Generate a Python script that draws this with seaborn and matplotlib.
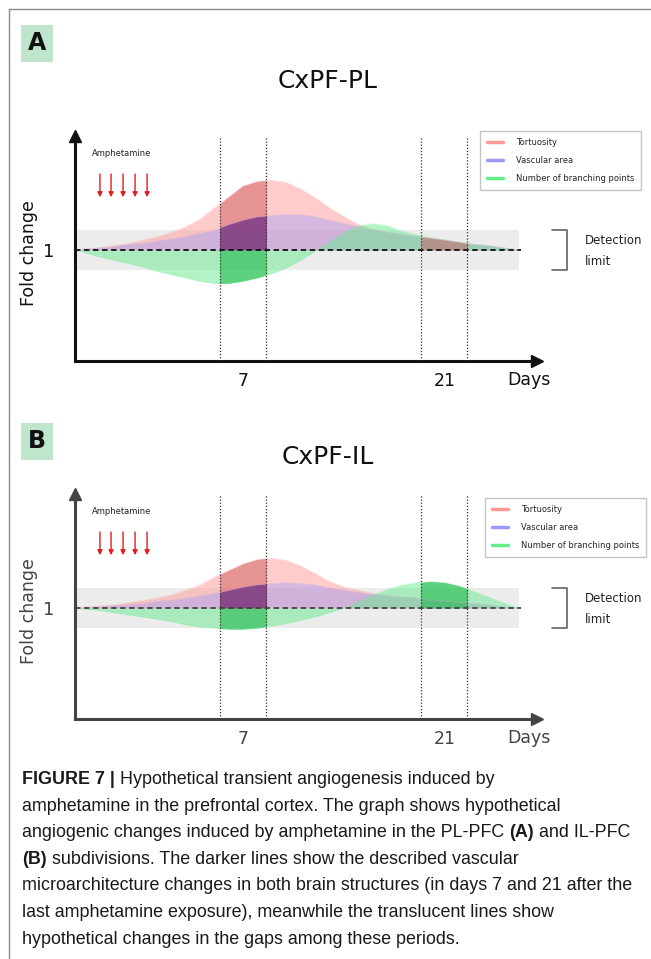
import matplotlib.pyplot as plt
import numpy as np
import pandas as pd
import seaborn as sns
from matplotlib import transforms
from matplotlib.lines import Line2D
from matplotlib.patches import Rectangle
from matplotlib.text import Annotation

sns.set_theme(style="white")
plt.rcParams["font.family"] = ["DejaVu Sans"]

# days after start (x) and fold change (y)
days = [-4.64, -4, -3, -2, -1, 0, 1, 2, 3, 4, 5, 6, 7, 8, 9, 10, 11, 12, 13, 14,
        15, 16, 17, 18, 19, 20, 21, 22, 23, 24, 25, 26.13]

tortuosity_pl = [1.00, 1.01, 1.02, 1.04, 1.06, 1.09, 1.12, 1.16, 1.21, 1.28, 1.38, 1.48, 1.58, 1.62, 1.63, 1.61,
                 1.55, 1.47, 1.38, 1.30, 1.23, 1.19, 1.16, 1.14, 1.12, 1.11, 1.09, 1.07, 1.05, 1.04, 1.02, 1.00]
vascular_pl = [1.00, 1.01, 1.02, 1.03, 1.05, 1.06, 1.08, 1.10, 1.12, 1.15, 1.18, 1.23, 1.27, 1.30, 1.31, 1.32,
               1.32, 1.30, 1.27, 1.24, 1.21, 1.18, 1.16, 1.14, 1.12, 1.10, 1.09, 1.07, 1.05, 1.04, 1.02, 1.00]
branching_pl = [1.00, 0.98, 0.94, 0.91, 0.88, 0.85, 0.81, 0.78, 0.75, 0.72, 0.70, 0.70, 0.72, 0.75, 0.79, 0.84,
                0.91, 0.99, 1.08, 1.16, 1.22, 1.24, 1.22, 1.17, 1.14, 1.11, 1.09, 1.07, 1.05, 1.04, 1.02, 1.00]

tortuosity_il = [1.00, 1.01, 1.02, 1.03, 1.05, 1.07, 1.09, 1.12, 1.16, 1.21, 1.28, 1.34, 1.40, 1.44, 1.45, 1.43,
                 1.38, 1.31, 1.24, 1.19, 1.16, 1.13, 1.11, 1.10, 1.09, 1.07, 1.06, 1.05, 1.04, 1.03, 1.01, 1.00]
vascular_il = [1.00, 1.00, 1.01, 1.02, 1.03, 1.04, 1.06, 1.07, 1.09, 1.11, 1.13, 1.16, 1.19, 1.21, 1.22, 1.23,
               1.22, 1.21, 1.18, 1.16, 1.14, 1.12, 1.11, 1.10, 1.09, 1.07, 1.06, 1.05, 1.04, 1.03, 1.01, 1.00]
branching_il = [1.00, 0.99, 0.98, 0.96, 0.94, 0.92, 0.90, 0.88, 0.85, 0.83, 0.82, 0.81, 0.81, 0.82, 0.84, 0.86,
                0.89, 0.92, 0.96, 1.00, 1.06, 1.12, 1.17, 1.21, 1.23, 1.24, 1.23, 1.20, 1.15, 1.10, 1.05, 1.00]

measures = ["Tortuosity", "Vascular area", "Number of branching points"]
windows = [(5.4, 8.6), (19.3, 22.5)]
# which measures are "described" (darker) in each window
described_pl = [measures, ["Tortuosity"]]
described_il = [measures, ["Number of branching points"]]
x_ticks = [7, 21]
detection = 0.18

legend_colors = {"Tortuosity": "#ff9999", "Vascular area": "#9999ff", "Number of branching points": "#66ee88"}
light = {"Tortuosity": ("#ff9999", 0.5), "Vascular area": ("#9999ff", 0.4),
         "Number of branching points": ("#69eb91", 0.5)}
dark = {"Tortuosity": ("#cd5c5c", 0.5), "Vascular area": ("#50147d", 0.54),
        "Number of branching points": ("#0aaf3c", 0.5)}

W, H = 651, 959
fig = plt.figure(figsize=(W / 100, H / 100), dpi=100)


def fig_rect(left, top, right, bottom):
    return [left / W, 1 - bottom / H, (right - left) / W, (bottom - top) / H]


def draw_panel(rect, letter, letter_top, title, title_y, series, described, ink, legend_top, legend_right):
    ax = fig.add_axes(fig_rect(*rect))
    ax.set_xlim(-4.64, 27.37)
    ax.set_ylim(0, 2.027)

    df = pd.DataFrame({
        "day": days * len(measures),
        "fold": [v for vals in series for v in vals],
        "measure": np.repeat(measures, len(days)),
    })
    by_name = dict(zip(measures, series))

    ax.axhspan(1 - detection, 1 + detection, xmax=0.962, color="#ececec", lw=0, zorder=0)
    for name in measures:
        color, alpha = light[name]
        ax.fill_between(days, 1, by_name[name], color=color, alpha=alpha, lw=0, zorder=1)
    for (x0, x1), names in zip(windows, described):
        clip = Rectangle((x0, -1), x1 - x0, 5, transform=ax.transData)
        for name in names:
            color, alpha = dark[name]
            poly = ax.fill_between(days, 1, by_name[name], color=color, alpha=alpha, lw=0, zorder=2)
            poly.set_clip_path(clip)
    sns.lineplot(data=df, x="day", y="fold", hue="measure", palette=legend_colors,
                 lw=0.5, alpha=0.25, legend=False, ax=ax, zorder=3)

    for x0, x1 in windows:
        for x in (x0, x1):
            ax.axvline(x, color="#333333", lw=0.9, ls=(0, (1, 1.5)), zorder=4)
    ax.axhline(1, xmax=0.965, color=ink, lw=1.3, ls=(0, (3, 2)), zorder=5)

    # axes with arrow heads
    sns.despine(ax=ax)
    for side in ("left", "bottom"):
        ax.spines[side].set_linewidth(2.2)
        ax.spines[side].set_color(ink)
    ax.plot([0], [1], marker="^", ms=9, color=ink, transform=ax.transAxes, clip_on=False)
    ax.plot([1], [0], marker=">", ms=9, color=ink, transform=ax.transAxes, clip_on=False)

    ax.set_xticks(x_ticks)
    ax.set_yticks([1])
    ax.tick_params(axis="x", direction="inout", length=10, width=2, pad=3, labelsize=12.5,
                   color=ink, labelcolor=ink)
    ax.tick_params(axis="y", direction="out", length=6, width=1, pad=8.5, labelsize=13,
                   color="#777777", labelcolor=ink)
    ax.set_xlabel("")
    ax.set_ylabel("Fold change", fontsize=12.5, color=ink, va="center")
    ax.yaxis.set_label_coords(-0.100, 0.48)
    ax.text(0.983, -0.084, "Days", transform=ax.transAxes, ha="center", va="center",
            fontsize=12.5, color=ink)

    # amphetamine injections
    ax.text(0.102, 0.924, "Amphetamine", transform=ax.transAxes, ha="center", va="center",
            fontsize=6, color="#222222")
    for x in (0.054, 0.078, 0.104, 0.130, 0.156):
        ax.annotate("", xy=(x, 0.728), xytext=(x, 0.831), xycoords="axes fraction",
                    arrowprops=dict(arrowstyle="-|>", color="#e41a1c", lw=1.0, mutation_scale=7,
                                    shrinkA=0, shrinkB=0))

    # detection limit bracket
    blend = transforms.blended_transform_factory(ax.transAxes, ax.transData)
    ax.plot([1.032, 1.065, 1.065, 1.032], [1 + detection, 1 + detection, 1 - detection, 1 - detection],
            transform=blend, clip_on=False, color="#555555", lw=1.1)
    ax.text(1.104, 1.09, "Detection", transform=blend, ha="left", va="center", fontsize=8.5, color="#222222")
    ax.text(1.104, 0.90, "limit", transform=blend, ha="left", va="center", fontsize=8.5, color="#222222")

    handles = [Line2D([], [], color=legend_colors[m], lw=2.5) for m in measures]
    leg = ax.legend(handles, measures, loc="upper right", bbox_to_anchor=(legend_right / W, 1 - legend_top / H),
                    bbox_transform=fig.transFigure, fontsize=6, frameon=True, fancybox=False,
                    edgecolor="#c4c4c4", framealpha=1, handlelength=2.0, handletextpad=1.5,
                    labelspacing=1.1, borderpad=0.8, borderaxespad=0)
    leg.get_frame().set_linewidth(1.0)

    fig.text(328 / W, 1 - title_y / H, title, ha="center", va="center", fontsize=18, color="#111111")
    fig.add_artist(Rectangle((21 / W, 1 - (letter_top + 37) / H), 32 / W, 37 / H,
                             transform=fig.transFigure, color="#bfe6cc", lw=0))
    fig.text(37 / W, 1 - (letter_top + 18.5) / H, letter, ha="center", va="center",
             fontsize=17, fontweight="bold", color="#111111")
    return ax


draw_panel((75, 136, 537, 361), "A", 25, "CxPF-PL", 81,
           [tortuosity_pl, vascular_pl, branching_pl], described_pl, "#111111", 131, 641)
draw_panel((75, 494, 537, 719), "B", 423, "CxPF-IL", 457,
           [tortuosity_il, vascular_il, branching_il], described_il, "#444444", 498, 646)

# page frame
fig.add_artist(Line2D([9 / W, 9 / W], [0, 1 - 9 / H], transform=fig.transFigure, color="#8a8a8a", lw=1))
fig.add_artist(Line2D([9 / W, 1], [1 - 9 / H, 1 - 9 / H], transform=fig.transFigure, color="#8a8a8a", lw=1))

# caption
caption_lines = [
    [("FIGURE 7 |", True), (" Hypothetical transient angiogenesis induced by", False)],
    [("amphetamine in the prefrontal cortex. The graph shows hypothetical", False)],
    [("angiogenic changes induced by amphetamine in the PL-PFC ", False), ("(A)", True), (" and IL-PFC", False)],
    [("(B)", True), (" subdivisions. The darker lines show the described vascular", False)],
    [("microarchitecture changes in both brain structures (in days 7 and 21 after the", False)],
    [("last amphetamine exposure), meanwhile the translucent lines show", False)],
    [("hypothetical changes in the gaps among these periods.", False)],
]
cap_font = ["Liberation Sans Narrow", "Liberation Sans", "DejaVu Sans"]
cap_size = 12.9
for i, parts in enumerate(caption_lines):
    y_px = 788 + 26.6 * i
    prev = None
    for text, bold in parts:
        weight = "bold" if bold else "normal"
        if prev is None:
            prev = fig.text(22 / W, 1 - y_px / H, text, ha="left", va="bottom", fontsize=cap_size,
                            fontweight=weight, family=cap_font, color="#1a1a1a")
        else:
            ann = Annotation(text, xy=(1, 0), xycoords=prev, ha="left", va="bottom", fontsize=cap_size,
                             fontweight=weight, family=cap_font, color="#1a1a1a")
            fig.add_artist(ann)
            prev = ann

fig.savefig("out.png", dpi=100)
